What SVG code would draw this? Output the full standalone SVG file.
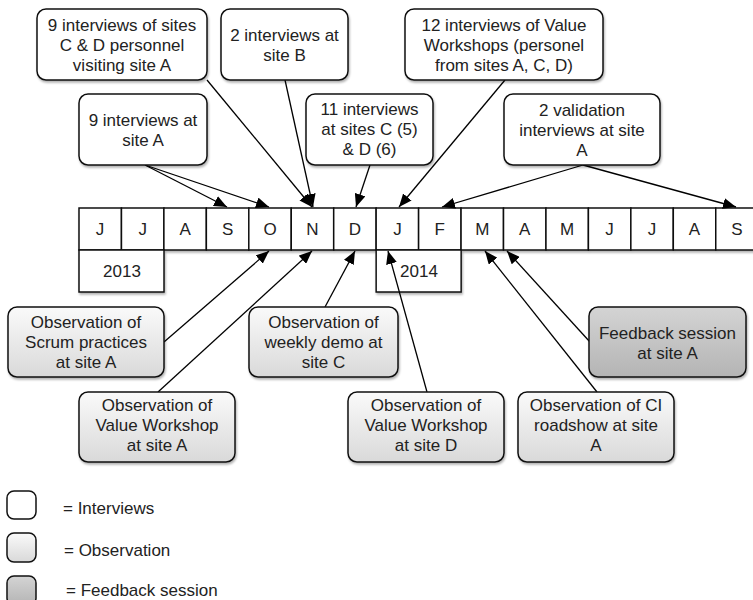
<svg xmlns="http://www.w3.org/2000/svg" width="753" height="600" viewBox="0 0 753 600">
<defs>
<linearGradient id="obs" x1="0" y1="0" x2="0" y2="1"><stop offset="0" stop-color="#fafafa"/><stop offset="1" stop-color="#d9d9d9"/></linearGradient>
<linearGradient id="fb" x1="0" y1="0" x2="0" y2="1"><stop offset="0" stop-color="#d4d4d4"/><stop offset="1" stop-color="#b4b4b4"/></linearGradient>
<filter id="sh" x="-10%" y="-10%" width="130%" height="140%"><feDropShadow dx="1" dy="2" stdDeviation="1.2" flood-color="#000" flood-opacity="0.3"/></filter>
<marker id="ah" viewBox="0 0 13 11" refX="13" refY="5.5" markerWidth="13" markerHeight="11" markerUnits="userSpaceOnUse" orient="auto"><path d="M0,0 L13,5.5 L0,11 Z" fill="#000"/></marker>
</defs>
<style>
text{font-family:"Liberation Sans",Arial,sans-serif;font-size:17px;fill:#222;text-anchor:middle}
.leg{text-anchor:start}
.int{fill:#fff;stroke:#111;stroke-width:1.5}
.obs{fill:url(#obs);stroke:#111;stroke-width:1.5}
.fb{fill:url(#fb);stroke:#111;stroke-width:1.5}
.cell{fill:#fff;stroke:#111;stroke-width:1.5}
.con line{stroke:#000;stroke-width:1.3;marker-end:url(#ah)}
</style>
<rect width="753" height="600" fill="#fff"/>

<g id="timeline" filter="url(#sh)">
<rect class="cell" x="79" y="208" width="42.45" height="42"/>
<rect class="cell" x="121.45" y="208" width="42.45" height="42"/>
<rect class="cell" x="163.9" y="208" width="42.45" height="42"/>
<rect class="cell" x="206.35" y="208" width="42.45" height="42"/>
<rect class="cell" x="248.8" y="208" width="42.45" height="42"/>
<rect class="cell" x="291.25" y="208" width="42.45" height="42"/>
<rect class="cell" x="333.7" y="208" width="42.45" height="42"/>
<rect class="cell" x="376.15" y="208" width="42.45" height="42"/>
<rect class="cell" x="418.6" y="208" width="42.45" height="42"/>
<rect class="cell" x="461.05" y="208" width="42.45" height="42"/>
<rect class="cell" x="503.5" y="208" width="42.45" height="42"/>
<rect class="cell" x="545.95" y="208" width="42.45" height="42"/>
<rect class="cell" x="588.4" y="208" width="42.45" height="42"/>
<rect class="cell" x="630.85" y="208" width="42.45" height="42"/>
<rect class="cell" x="673.3" y="208" width="42.45" height="42"/>
<rect class="cell" x="715.75" y="208" width="42.45" height="42"/>
<rect class="cell" x="79" y="250" width="85" height="42"/>
<rect class="cell" x="376.15" y="250" width="85" height="42"/>
</g>
<g id="timeline-text">
<text x="100" y="235">J</text>
<text x="142.7" y="235">J</text>
<text x="185.1" y="235">A</text>
<text x="227.6" y="235">S</text>
<text x="270" y="235">O</text>
<text x="312.5" y="235">N</text>
<text x="354.9" y="235">D</text>
<text x="397.4" y="235">J</text>
<text x="439.8" y="235">F</text>
<text x="482.3" y="235">M</text>
<text x="524.7" y="235">A</text>
<text x="567.2" y="235">M</text>
<text x="609.6" y="235">J</text>
<text x="652.1" y="235">J</text>
<text x="694.5" y="235">A</text>
<text x="737" y="235">S</text>
<text x="122" y="277">2013</text>
<text x="419" y="277">2014</text>
</g>

<g class="con" id="connectors">
<line x1="145" y1="165" x2="227" y2="207"/>
<line x1="145" y1="165" x2="269" y2="207"/>
<line x1="207" y1="80" x2="312" y2="207"/>
<line x1="285" y1="80" x2="313" y2="207"/>
<line x1="370" y1="165" x2="356" y2="207"/>
<line x1="505" y1="80" x2="399" y2="207"/>
<line x1="583" y1="165" x2="442" y2="207"/>
<line x1="583" y1="165" x2="736" y2="207"/>
<line x1="164" y1="342" x2="269" y2="251"/>
<line x1="158" y1="392" x2="312" y2="251"/>
<line x1="325" y1="307" x2="355" y2="251"/>
<line x1="427" y1="392" x2="388" y2="251"/>
<line x1="597" y1="392" x2="485" y2="251"/>
<line x1="590" y1="342" x2="507" y2="251"/>
</g>

<g id="n1"><rect class="int" x="37" y="9" width="170" height="71" rx="9" filter="url(#sh)"/>
<text x="122" y="31">9 interviews of sites</text><text x="122" y="51">C &amp; D personnel</text><text x="122" y="71">visiting site A</text></g>
<g id="n2"><rect class="int" x="221" y="9" width="127" height="71" rx="9" filter="url(#sh)"/>
<text x="284.5" y="41">2 interviews at</text><text x="284.5" y="61">site B</text></g>
<g id="n3"><rect class="int" x="79" y="94" width="128" height="71" rx="9" filter="url(#sh)"/>
<text x="143" y="126">9 interviews at</text><text x="143" y="146">site A</text></g>
<g id="n4"><rect class="int" x="306" y="94" width="127" height="71" rx="9" filter="url(#sh)"/>
<text x="369.5" y="115">11 interviews</text><text x="369.5" y="135">at sites C (5)</text><text x="369.5" y="155">&amp; D (6)</text></g>
<g id="n5"><rect class="int" x="405" y="9" width="198" height="71" rx="9" filter="url(#sh)"/>
<text x="504" y="31">12 interviews of Value</text><text x="504" y="51">Workshops (personel</text><text x="504" y="71">from sites A, C, D)</text></g>
<g id="n6"><rect class="int" x="504" y="94" width="156" height="71" rx="9" filter="url(#sh)"/>
<text x="582" y="116">2 validation</text><text x="582" y="136">interviews at site</text><text x="582" y="156">A</text></g>

<g id="o1"><rect class="obs" x="8" y="307" width="156" height="70" rx="9" filter="url(#sh)"/>
<text x="86" y="328">Observation of</text><text x="86" y="348">Scrum practices</text><text x="86" y="368">at site A</text></g>
<g id="o2"><rect class="obs" x="249" y="307" width="149" height="70" rx="9" filter="url(#sh)"/>
<text x="323.5" y="328">Observation of</text><text x="323.5" y="348">weekly demo at</text><text x="323.5" y="368">site C</text></g>
<g id="f1"><rect class="fb" x="589" y="307" width="157" height="70" rx="9" filter="url(#sh)"/>
<text x="667.5" y="339">Feedback session</text><text x="667.5" y="359">at site A</text></g>
<g id="o3"><rect class="obs" x="79" y="392" width="156" height="70" rx="9" filter="url(#sh)"/>
<text x="157" y="411">Observation of</text><text x="157" y="431">Value Workshop</text><text x="157" y="451">at site A</text></g>
<g id="o4"><rect class="obs" x="348" y="392" width="156" height="70" rx="9" filter="url(#sh)"/>
<text x="426" y="411">Observation of</text><text x="426" y="431">Value Workshop</text><text x="426" y="451">at site D</text></g>
<g id="o5"><rect class="obs" x="518" y="392" width="156" height="70" rx="9" filter="url(#sh)"/>
<text x="596" y="411">Observation of CI</text><text x="596" y="431">roadshow at site</text><text x="596" y="451">A</text></g>

<g id="legend">
<rect class="int" x="7" y="491" width="29" height="28" rx="7"/>
<text class="leg" x="63" y="514">= Interviews</text>
<rect class="obs" x="7" y="533" width="29" height="29" rx="7"/>
<text class="leg" x="64" y="556">= Observation</text>
<rect class="fb" x="7" y="576" width="29" height="29" rx="7"/>
<text class="leg" x="66" y="596">= Feedback session</text>
</g>
</svg>
